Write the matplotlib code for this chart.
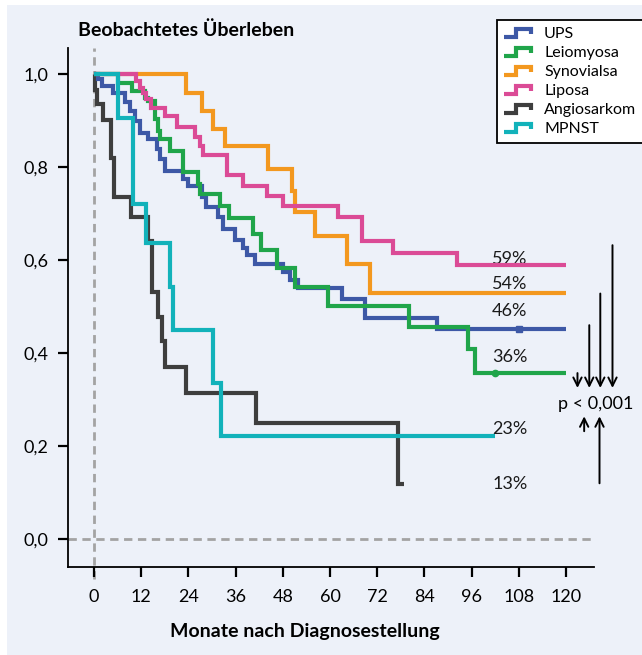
import numpy as np
import matplotlib
matplotlib.use("Agg")
import matplotlib.pyplot as plt
from matplotlib.legend_handler import HandlerBase
from matplotlib.lines import Line2D
from matplotlib.patches import Rectangle

plt.rcParams['font.family'] = ['Lato', 'DejaVu Sans']

# Kaplan-Meier steps (months, survival)
ups_t = [0, 1.1, 1.95, 4.9, 7.9, 9.2, 10.4, 11.7, 13.8, 15.9, 16.8, 18.1, 22.7, 24.0, 27.4, 28.6,
         31.6, 32.9, 35.8, 38.0, 38.8, 40.9, 48.1, 49.8, 51.9, 63.0, 68.9, 87.1, 120]
ups_s = [1.0, 0.989, 0.974, 0.960, 0.939, 0.921, 0.899, 0.874, 0.860, 0.839, 0.817, 0.792, 0.774, 0.760,
         0.735, 0.714, 0.692, 0.667, 0.644, 0.625, 0.610, 0.592, 0.575, 0.557, 0.539, 0.517, 0.475, 0.452, 0.452]

leio_t = [0, 6.0, 9.6, 13.0, 13.8, 15.5, 16.4, 16.8, 19.3, 22.7, 26.5, 27.0, 32.0, 34.3, 40.5, 42.4,
          46.4, 51.1, 59.4, 80.2, 95.2, 96.9, 120]
leio_s = [1.0, 0.981, 0.964, 0.949, 0.942, 0.903, 0.878, 0.860, 0.835, 0.789, 0.764, 0.742, 0.717, 0.690,
          0.657, 0.621, 0.584, 0.543, 0.502, 0.455, 0.408, 0.357, 0.357]

syno_t = [0, 23.4, 27.4, 30.3, 33.3, 44.3, 50.3, 51.0, 56.2, 64.2, 70.2, 120]
syno_s = [1.0, 0.960, 0.921, 0.882, 0.845, 0.796, 0.749, 0.703, 0.651, 0.591, 0.530, 0.530]

lipo_t = [0, 10.8, 11.6, 12.4, 13.3, 14.6, 18.0, 21.0, 25.6, 27.0, 27.8, 33.9, 37.8, 44.0, 48.1,
          62.1, 68.1, 76.1, 92.2, 120]
lipo_s = [1.0, 0.985, 0.971, 0.960, 0.946, 0.928, 0.910, 0.887, 0.865, 0.846, 0.826, 0.782, 0.759,
          0.738, 0.716, 0.692, 0.642, 0.615, 0.589, 0.589]

angio_t = [0, 0.2, 0.7, 2.2, 4.4, 5.1, 9.5, 13.8, 14.7, 16.4, 17.2, 18.0, 23.4, 41.2, 77.3, 78.8]
angio_s = [1.0, 0.966, 0.935, 0.902, 0.820, 0.735, 0.692, 0.642, 0.532, 0.478, 0.425, 0.370, 0.314,
           0.250, 0.118, 0.118]

mpnst_t = [0, 6.2, 10.0, 13.2, 19.3, 20.2, 30.3, 32.2, 102]
mpnst_s = [1.0, 0.906, 0.720, 0.636, 0.543, 0.450, 0.336, 0.221, 0.221]

names = ['UPS', 'Leiomyosa', 'Synovialsa', 'Liposa', 'Angiosarkom', 'MPNST']
colors = ['#3d58a6', '#20a54a', '#f3981f', '#db4b96', '#3e3e3e', '#12b2ba']
pct_labels = ['59%', '54%', '46%', '36%', '23%', '13%']
pct_y = [0.602, 0.548, 0.490, 0.392, 0.236, 0.118]

censor_ups = 108
censor_leio = 102

bg = '#edf1f9'

fig = plt.figure(figsize=(6.42, 6.55), dpi=100)
fig.patch.set_facecolor('white')
fig.patches.append(Rectangle((7 / 642, 0), 1, 1 - 5 / 655, transform=fig.transFigure,
                             facecolor=bg, edgecolor='none', zorder=-10))

ax = fig.add_axes([68 / 642, 1 - 567 / 655, (594 - 68) / 642, (567 - 48) / 655])
ax.patch.set_alpha(0)
ax.set_xlim(-6.6, 127.1)
ax.set_ylim(-0.06, 1.056)

# dashed reference lines
ax.plot([0, 0], [-0.085, 1.056], color='#a3a3a3', lw=2.0, ls=(0, (3, 2)), clip_on=False, zorder=1)
ax.plot([-6.6, 127.1], [0, 0], color='#a3a3a3', lw=2.0, ls=(0, (3, 2)), clip_on=False, zorder=1)

series = {
    'UPS': (ups_t, ups_s),
    'Leiomyosa': (leio_t, leio_s),
    'Synovialsa': (syno_t, syno_s),
    'Liposa': (lipo_t, lipo_s),
    'Angiosarkom': (angio_t, angio_s),
    'MPNST': (mpnst_t, mpnst_s),
}
draw_order = ['Angiosarkom', 'UPS', 'Leiomyosa', 'Synovialsa', 'Liposa', 'MPNST']
handles = {}
for name in draw_order:
    t, s = series[name]
    c = colors[names.index(name)]
    ln, = ax.step(t, s, where='post', color=c, lw=3.0, solid_joinstyle='miter',
                  solid_capstyle='butt', zorder=3 + draw_order.index(name))
    handles[name] = ln

ax.plot([censor_ups], [ups_s[-1]], marker='s', ms=4, color=colors[0], zorder=10)
ax.plot([censor_leio], [leio_s[-1]], marker='o', ms=4.5, color=colors[1], zorder=10)

for lab, y in zip(pct_labels, pct_y):
    ax.text(101.2, y, lab, fontsize=13, ha='left', va='center', color='#1a1a1a')

# p value with arrows
ax.text(127.6, 0.291, 'p < 0,001', fontsize=13, ha='center', va='center', clip_on=False)
arr = dict(arrowstyle='->', color='black', lw=1.4, mutation_scale=15, shrinkA=0, shrinkB=0)
for x, ytop in [(122.9, 0.357), (125.9, 0.46), (128.7, 0.528), (131.8, 0.632)]:
    ax.annotate('', xy=(x, 0.325), xytext=(x, ytop), arrowprops=arr, annotation_clip=False)
for x, ybot in [(124.6, 0.232), (128.5, 0.12)]:
    ax.annotate('', xy=(x, 0.264), xytext=(x, ybot), arrowprops=arr, annotation_clip=False)

ax.spines['top'].set_visible(False)
ax.spines['right'].set_visible(False)
for sp in ['left', 'bottom']:
    ax.spines[sp].set_linewidth(1.3)
ax.set_xticks(np.arange(0, 121, 12))
ax.set_yticks([0, 0.2, 0.4, 0.6, 0.8, 1.0])
ax.set_yticklabels(['0,0', '0,2', '0,4', '0,6', '0,8', '1,0'])
ax.tick_params(axis='both', length=7, width=1.6, labelsize=13, colors='black')
ax.tick_params(axis='y', pad=7)
ax.tick_params(axis='x', pad=9)

fig.text(78 / 642, 1 - 30 / 655, 'Beobachtetes Überleben', fontsize=14, fontweight='bold',
         ha='left', va='center')
fig.text(305 / 642, 1 - 632 / 655, 'Monate nach Diagnosestellung', fontsize=14,
         fontweight='bold', ha='center', va='center')


class StepHandler(HandlerBase):
    def create_artists(self, legend, orig_handle, xdescent, ydescent, width, height, fontsize, trans):
        xs = np.array([0, 0.42, 0.42, 1, 1]) * width - xdescent
        ys = np.array([0.1, 0.1, 0.85, 0.85, 0.35]) * height - ydescent
        line = Line2D(xs, ys, color=orig_handle.get_color(), lw=3.0, solid_joinstyle='miter',
                      solid_capstyle='butt')
        line.set_transform(trans)
        return [line]


leg = fig.legend([handles[n] for n in names], names, loc='upper left',
                 bbox_to_anchor=(497 / 642, 1 - 20 / 655), fontsize=11.5,
                 handler_map={Line2D: StepHandler()}, handlelength=1.7, handleheight=0.7,
                 handletextpad=0.8, labelspacing=0.3, borderpad=0.45, borderaxespad=0,
                 fancybox=False, framealpha=1, facecolor='white', edgecolor='black')
leg.get_frame().set_linewidth(1.3)

fig.savefig('out.png', dpi=100, facecolor=fig.get_facecolor())
